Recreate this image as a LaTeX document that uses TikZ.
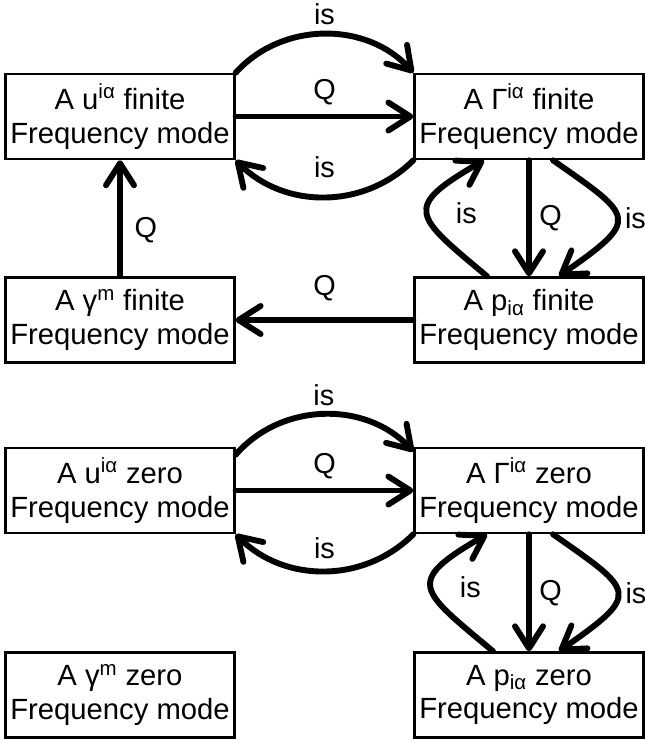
\documentclass[tikz,border=0pt]{standalone}
\usepackage{fontspec}
\setmainfont{Liberation Sans}
\usetikzlibrary{arrows.meta}

\begin{document}
\begin{tikzpicture}[-{Straight Barb[length=5.5mm,width=7mm,round]},line width=4.2pt,line cap=round,
  mode/.style={draw,line width=1.8pt,minimum width=5.7cm,minimum height=2.125cm,align=center,font=\fontsize{20.8}{24}\selectfont},
  lab/.style={font=\fontsize{20.5}{24}\selectfont}]

\useasboundingbox (0,0) rectangle (16.125,-18.575);

% finite frequency modes
\node[mode] (U) at (3,-2.9125) {A u\textsuperscript{iα} finite\\Frequency mode};
\node[mode] (G) at (13.225,-2.9125) {A Γ\textsuperscript{iα} finite\\Frequency mode};
\node[mode] (Y) at (3,-8) {A γ\textsuperscript{m} finite\\Frequency mode};
\node[mode] (P) at (13.225,-8) {A p\textsubscript{iα} finite\\Frequency mode};

\path (U.north east) edge [bend left = 48] node[above =1pt,lab] {is} (G.north west);
\path (U) edge node[above =3pt,lab] {Q} (G);
\path (G.south west) edge [bend left = 45] node[above =8pt,lab] {is} (U.south east);
\path (Y) edge node[pos=0.4,right =5pt,lab] {Q} (U);
\path (P) edge node[above =8pt,lab] {Q} (Y);
\path (G) edge node[right =2pt,lab] {Q} (P);
\path ([xshift=-1.05cm]P.north) edge [out=140,in=-150,looseness=2.1] node[right =15pt,lab] {is} ([xshift=-1.125cm]G.south);
\path ([xshift=0.6cm]G.south) edge [out=-35,in=35,looseness=2.2] node[right =0pt,lab] {is} ([xshift=0.75cm]P.north);

% zero frequency modes
\node[mode] (Uz) at (3,-12.2625) {A u\textsuperscript{iα} zero\\Frequency mode};
\node[mode] (Gz) at (13.225,-12.2625) {A Γ\textsuperscript{iα} zero\\Frequency mode};
\node[mode] (Yz) at (3,-17.375) {A γ\textsuperscript{m} zero\\Frequency mode};
\node[mode] (Pz) at (13.225,-17.375) {A p\textsubscript{iα} zero\\Frequency mode};

\path ([yshift=-0.2cm]Uz.north east) edge [bend left = 48] node[above =1pt,lab] {is} ([yshift=-0.12cm]Gz.north west);
\path (Uz) edge node[above =3pt,lab] {Q} (Gz);
\path (Gz.south west) edge [bend left = 45] node[above =3pt,lab] {is} (Uz.south east);
\path (Gz) edge node[right =2pt,lab] {Q} (Pz);
\path ([xshift=-0.9cm]Pz.north) edge [out=140,in=-150,looseness=2.1] node[right =15pt,lab] {is} ([xshift=-1.05cm]Gz.south);
\path ([xshift=0.6cm]Gz.south) edge [out=-35,in=35,looseness=2.2] node[right =0pt,lab] {is} ([xshift=0.75cm]Pz.north);
\end{tikzpicture}
\end{document}
